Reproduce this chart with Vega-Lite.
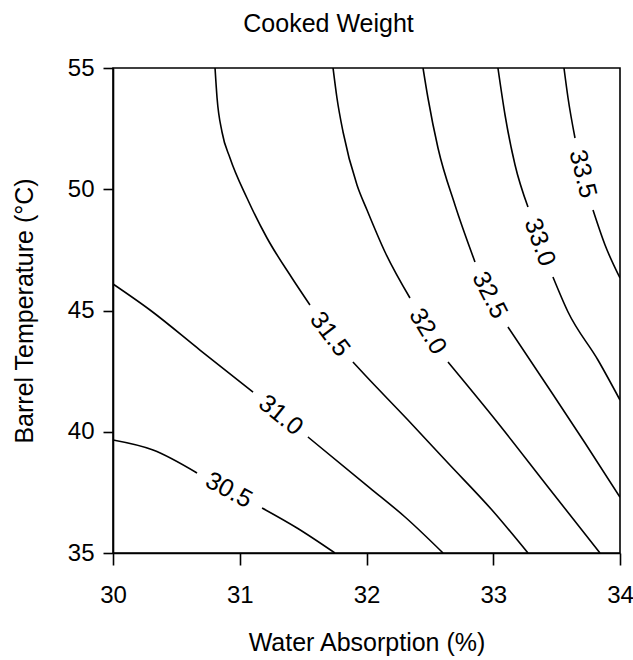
{
  "$schema": "https://vega.github.io/schema/vega-lite/v6.json",
  "width": 507,
  "height": 485,
  "autosize": {"type": "none"},
  "padding": {"left": 113, "top": 68, "right": 13, "bottom": 107},
  "background": "white",
  "title": {
    "text": "Cooked Weight",
    "font": "Liberation Sans",
    "fontSize": 25,
    "fontWeight": "normal",
    "color": "black",
    "anchor": "middle",
    "frame": "group",
    "baseline": "alphabetic",
    "offset": -1,
    "dx": -38
  },
  "config": {
    "view": {"stroke": "black", "strokeWidth": 1.6},
    "axis": {
      "grid": false,
      "labelFlush": false,
      "domainColor": "black",
      "domainWidth": 1.6,
      "tickColor": "black",
      "tickWidth": 1.6,
      "labelFont": "Liberation Sans",
      "labelFontSize": 24,
      "labelColor": "black",
      "titleFont": "Liberation Sans",
      "titleFontSize": 25,
      "titleFontWeight": "normal",
      "titleColor": "black"
    }
  },
  "datasets": {
    "lines": [
      {"level": "30.5", "seg": "30.5a", "i": 1, "x": 30.0, "y": 39.66},
      {"level": "30.5", "seg": "30.5a", "i": 2, "x": 30.316, "y": 39.247},
      {"level": "30.5", "seg": "30.5a", "i": 3, "x": 30.663, "y": 38.299},
      {"level": "30.5", "seg": "30.5b", "i": 4, "x": 31.176, "y": 36.856},
      {"level": "30.5", "seg": "30.5b", "i": 5, "x": 31.452, "y": 36.031},
      {"level": "30.5", "seg": "30.5b", "i": 6, "x": 31.751, "y": 35.0},

      {"level": "31.0", "seg": "31.0a", "i": 1, "x": 30.0, "y": 46.093},
      {"level": "31.0", "seg": "31.0a", "i": 2, "x": 30.292, "y": 45.02},
      {"level": "31.0", "seg": "31.0a", "i": 3, "x": 30.686, "y": 43.371},
      {"level": "31.0", "seg": "31.0a", "i": 4, "x": 31.105, "y": 41.639},
      {"level": "31.0", "seg": "31.0b", "i": 5, "x": 31.538, "y": 39.784},
      {"level": "31.0", "seg": "31.0b", "i": 6, "x": 32.028, "y": 37.68},
      {"level": "31.0", "seg": "31.0b", "i": 7, "x": 32.304, "y": 36.485},
      {"level": "31.0", "seg": "31.0b", "i": 8, "x": 32.604, "y": 35.0},

      {"level": "31.5", "seg": "31.5a", "i": 1, "x": 30.805, "y": 55.0},
      {"level": "31.5", "seg": "31.5a", "i": 2, "x": 30.821, "y": 53.763},
      {"level": "31.5", "seg": "31.5a", "i": 3, "x": 30.86, "y": 52.361},
      {"level": "31.5", "seg": "31.5a", "i": 4, "x": 30.923, "y": 51.289},
      {"level": "31.5", "seg": "31.5a", "i": 5, "x": 31.057, "y": 49.639},
      {"level": "31.5", "seg": "31.5a", "i": 6, "x": 31.215, "y": 47.99},
      {"level": "31.5", "seg": "31.5a", "i": 7, "x": 31.412, "y": 46.34},
      {"level": "31.5", "seg": "31.5a", "i": 8, "x": 31.554, "y": 45.227},
      {"level": "31.5", "seg": "31.5b", "i": 9, "x": 31.893, "y": 42.876},
      {"level": "31.5", "seg": "31.5b", "i": 10, "x": 31.988, "y": 42.34},
      {"level": "31.5", "seg": "31.5b", "i": 11, "x": 32.327, "y": 40.485},
      {"level": "31.5", "seg": "31.5b", "i": 12, "x": 32.643, "y": 38.711},
      {"level": "31.5", "seg": "31.5b", "i": 13, "x": 32.99, "y": 36.773},
      {"level": "31.5", "seg": "31.5b", "i": 14, "x": 33.274, "y": 35.0},

      {"level": "32.0", "seg": "32.0a", "i": 1, "x": 31.736, "y": 55.0},
      {"level": "32.0", "seg": "32.0a", "i": 2, "x": 31.767, "y": 53.763},
      {"level": "32.0", "seg": "32.0a", "i": 3, "x": 31.815, "y": 52.361},
      {"level": "32.0", "seg": "32.0a", "i": 4, "x": 31.925, "y": 50.175},
      {"level": "32.0", "seg": "32.0a", "i": 5, "x": 32.004, "y": 49.144},
      {"level": "32.0", "seg": "32.0a", "i": 6, "x": 32.146, "y": 47.412},
      {"level": "32.0", "seg": "32.0a", "i": 7, "x": 32.343, "y": 45.515},
      {"level": "32.0", "seg": "32.0b", "i": 8, "x": 32.643, "y": 42.876},
      {"level": "32.0", "seg": "32.0b", "i": 9, "x": 33.037, "y": 40.361},
      {"level": "32.0", "seg": "32.0b", "i": 10, "x": 33.432, "y": 37.722},
      {"level": "32.0", "seg": "32.0b", "i": 11, "x": 33.842, "y": 35.0},

      {"level": "32.5", "seg": "32.5a", "i": 1, "x": 32.446, "y": 55.0},
      {"level": "32.5", "seg": "32.5a", "i": 2, "x": 32.485, "y": 53.763},
      {"level": "32.5", "seg": "32.5a", "i": 3, "x": 32.564, "y": 51.701},
      {"level": "32.5", "seg": "32.5a", "i": 4, "x": 32.698, "y": 49.351},
      {"level": "32.5", "seg": "32.5a", "i": 5, "x": 32.856, "y": 47.0},
      {"level": "32.5", "seg": "32.5b", "i": 6, "x": 33.116, "y": 44.32},
      {"level": "32.5", "seg": "32.5b", "i": 7, "x": 33.432, "y": 41.845},
      {"level": "32.5", "seg": "32.5b", "i": 8, "x": 33.724, "y": 39.536},
      {"level": "32.5", "seg": "32.5b", "i": 9, "x": 34.0, "y": 37.3},

      {"level": "33.0", "seg": "33.0a", "i": 1, "x": 33.037, "y": 55.0},
      {"level": "33.0", "seg": "33.0a", "i": 2, "x": 33.093, "y": 53.062},
      {"level": "33.0", "seg": "33.0a", "i": 3, "x": 33.172, "y": 51.0},
      {"level": "33.0", "seg": "33.0a", "i": 4, "x": 33.274, "y": 49.268},
      {"level": "33.0", "seg": "33.0b", "i": 5, "x": 33.471, "y": 46.381},
      {"level": "33.0", "seg": "33.0b", "i": 6, "x": 33.59, "y": 44.938},
      {"level": "33.0", "seg": "33.0b", "i": 7, "x": 33.826, "y": 42.959},
      {"level": "33.0", "seg": "33.0b", "i": 8, "x": 34.0, "y": 41.309},

      {"level": "33.5", "seg": "33.5a", "i": 1, "x": 33.558, "y": 55.0},
      {"level": "33.5", "seg": "33.5a", "i": 2, "x": 33.59, "y": 53.763},
      {"level": "33.5", "seg": "33.5a", "i": 3, "x": 33.645, "y": 52.113},
      {"level": "33.5", "seg": "33.5b", "i": 4, "x": 33.787, "y": 49.144},
      {"level": "33.5", "seg": "33.5b", "i": 5, "x": 33.882, "y": 47.701},
      {"level": "33.5", "seg": "33.5b", "i": 6, "x": 34.0, "y": 46.34}
    ],
    "labels": [
      {"level": "30.5", "x": 30.915, "y": 37.6},
      {"level": "31.0", "x": 31.325, "y": 40.69},
      {"level": "31.5", "x": 31.712, "y": 44.03},
      {"level": "32.0", "x": 32.485, "y": 44.15},
      {"level": "32.5", "x": 32.974, "y": 45.64},
      {"level": "33.0", "x": 33.369, "y": 47.82},
      {"level": "33.5", "x": 33.708, "y": 50.63}
    ]
  },
  "layer": [
    {
      "data": {"name": "lines"},
      "mark": {"type": "line", "color": "black", "strokeWidth": 1.6, "clip": true, "interpolate": "monotone"},
      "encoding": {
        "x": {
          "field": "x",
          "type": "quantitative",
          "scale": {"domain": [30, 34], "nice": false, "zero": false},
          "axis": {
            "values": [30, 31, 32, 33, 34],
            "format": "d",
            "tickSize": 12,
            "labelPadding": 18,
            "title": "Water Absorption (%)",
            "titleBaseline": "alphabetic",
            "titleX": 253.5,
            "titleY": 97,
            "titleAnchor": "middle",
            "titleAlign": "center"
          }
        },
        "y": {
          "field": "y",
          "type": "quantitative",
          "scale": {"domain": [35, 55], "nice": false, "zero": false},
          "axis": {
            "values": [35, 40, 45, 50, 55],
            "format": "d",
            "tickSize": 10,
            "labelPadding": 9,
            "title": "Barrel Temperature (°C)",
            "titleAngle": -90,
            "titleBaseline": "alphabetic",
            "titleAlign": "center",
            "titleX": -81,
            "titleY": 242.5
          }
        },
        "detail": {"field": "seg"},
        "order": {"field": "i", "type": "quantitative"}
      }
    },
    {
      "data": {"name": "labels"},
      "transform": [{"filter": "datum.level == '30.5'"}],
      "mark": {"type": "text", "angle": 28, "font": "Liberation Sans", "fontSize": 25, "color": "black", "align": "center", "baseline": "middle"},
      "encoding": {"x": {"field": "x", "type": "quantitative"}, "y": {"field": "y", "type": "quantitative"}, "text": {"field": "level"}}
    },
    {
      "data": {"name": "labels"},
      "transform": [{"filter": "datum.level == '31.0'"}],
      "mark": {"type": "text", "angle": 39, "font": "Liberation Sans", "fontSize": 25, "color": "black", "align": "center", "baseline": "middle"},
      "encoding": {"x": {"field": "x", "type": "quantitative"}, "y": {"field": "y", "type": "quantitative"}, "text": {"field": "level"}}
    },
    {
      "data": {"name": "labels"},
      "transform": [{"filter": "datum.level == '31.5'"}],
      "mark": {"type": "text", "angle": 53, "font": "Liberation Sans", "fontSize": 25, "color": "black", "align": "center", "baseline": "middle"},
      "encoding": {"x": {"field": "x", "type": "quantitative"}, "y": {"field": "y", "type": "quantitative"}, "text": {"field": "level"}}
    },
    {
      "data": {"name": "labels"},
      "transform": [{"filter": "datum.level == '32.0'"}],
      "mark": {"type": "text", "angle": 59, "font": "Liberation Sans", "fontSize": 25, "color": "black", "align": "center", "baseline": "middle"},
      "encoding": {"x": {"field": "x", "type": "quantitative"}, "y": {"field": "y", "type": "quantitative"}, "text": {"field": "level"}}
    },
    {
      "data": {"name": "labels"},
      "transform": [{"filter": "datum.level == '32.5'"}],
      "mark": {"type": "text", "angle": 63, "font": "Liberation Sans", "fontSize": 25, "color": "black", "align": "center", "baseline": "middle"},
      "encoding": {"x": {"field": "x", "type": "quantitative"}, "y": {"field": "y", "type": "quantitative"}, "text": {"field": "level"}}
    },
    {
      "data": {"name": "labels"},
      "transform": [{"filter": "datum.level == '33.0'"}],
      "mark": {"type": "text", "angle": 70, "font": "Liberation Sans", "fontSize": 25, "color": "black", "align": "center", "baseline": "middle"},
      "encoding": {"x": {"field": "x", "type": "quantitative"}, "y": {"field": "y", "type": "quantitative"}, "text": {"field": "level"}}
    },
    {
      "data": {"name": "labels"},
      "transform": [{"filter": "datum.level == '33.5'"}],
      "mark": {"type": "text", "angle": 76, "font": "Liberation Sans", "fontSize": 25, "color": "black", "align": "center", "baseline": "middle"},
      "encoding": {"x": {"field": "x", "type": "quantitative"}, "y": {"field": "y", "type": "quantitative"}, "text": {"field": "level"}}
    }
  ]
}
